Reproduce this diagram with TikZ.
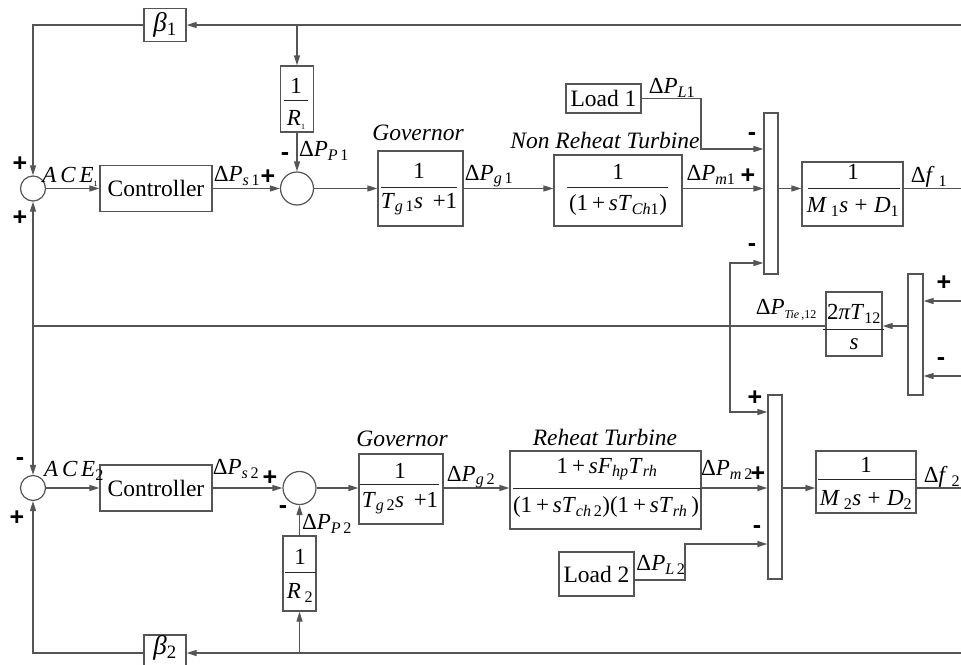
\documentclass[tikz,border=0pt]{standalone}
\usepackage{fontspec}
\setmainfont{Liberation Serif}
\newfontfamily\sgnfont{Liberation Sans}
\usetikzlibrary{arrows.meta}
\definecolor{lc}{RGB}{85,85,85}
\newcommand{\sbs}[1]{\textsubscript{#1}}
\newcommand{\tsb}[1]{\raisebox{-4pt}{\fontsize{8}{8}\selectfont #1}}
\tikzset{
  ln/.style={draw=lc, line width=1.2pt},
  ar/.style={ln, -{Triangle[length=10pt,width=6pt]}},
  blk/.style={draw=lc, line width=1.2pt, inner sep=0pt, fill=white},
  sumc/.style={circle, draw=lc, line width=1.2pt, inner sep=0pt, fill=white},
  fb/.style={draw=black!85, line width=0.9pt},
  sg/.style={font=\sgnfont\bfseries\fontsize{25}{25}\selectfont, inner sep=0pt},
  tx/.style={font=\fontsize{23.5}{26}\selectfont, inner sep=0pt},
  mt/.style={font=\fontsize{23}{25}\selectfont, inner sep=0pt},
  bt/.style={font=\fontsize{27}{29}\selectfont, inner sep=0pt},
}
\begin{document}
\begin{tikzpicture}[x=1pt,y=-1pt]
\useasboundingbox (0,0) rectangle (961,664);

% ---------- area 1 ----------
\node[sumc, minimum size=25pt] (s1) at (33,188.5) {};
\node[blk, tx, minimum width=112pt, minimum height=46pt] (ctl1) at (156,188.5) {Controller};
\node[sumc, minimum size=33pt] (s2) at (297,188.5) {};
\node[blk, bt, minimum width=42pt, minimum height=33pt] (b1) at (165,25) {\textit{β}\sbs{1}};
% 1/R1
\node[blk, minimum width=33pt, minimum height=66pt] (r1) at (297,99) {};
\draw[fb] (284,100) -- (308,100);
\node[mt] (r1n) at (296,86) {1};
\node[mt] (r1d) at (296,120) {\textit{R}\tsb{1}};
% governor 1
\node[blk, minimum width=85pt, minimum height=75pt] (gov1) at (420.5,188.5) {};
\draw[fb] (381,187) -- (457,187);
\node[mt] (gov1n) at (419,171) {1};
\node[mt] (gov1d) at (419,204) {\textit{T}\sbs{\textit{g}\,1}\textit{s}\, +1};
\node[tx] (gov1l) at (418,133) {\textit{Governor}};
% non reheat turbine
\node[blk, minimum width=128pt, minimum height=71pt] (nrt) at (618,190.5) {};
\draw[fb] (567,187) -- (668,187);
\node[mt] (nrtn) at (618,172) {1};
\node[mt] (nrtd) at (618,205) {(1\,+\,\textit{sT}\sbs{\textit{Ch}1})};
\node[tx] (nrtl) at (605,140) {\textit{Non Reheat Turbine}};
% load 1
\node[blk, tx, minimum width=75pt, minimum height=29pt] (load1) at (603.5,98.5) {Load 1};
% summing bar 1
\node[blk, minimum width=14pt, minimum height=161pt] (bar1) at (771,193.5) {};
% 1/(M1 s + D1)
\node[blk, minimum width=101pt, minimum height=64pt] (m1) at (852.5,194) {};
\draw[fb] (808,188) -- (900,188);
\node[mt] (m1n) at (853,172) {1};
\node[mt] (m1d) at (853,207) {\textit{M}\,\sbs{1}\textit{s}\;+\;\textit{D}\sbs{1}};

% ---------- tie line ----------
\node[blk, minimum width=56pt, minimum height=64pt] (tie) at (854,324) {};
\draw[fb] (823,329) -- (884,329);
\node[mt] (tien) at (854,314) {2\textit{πT}\sbs{12}};
\node[mt] (tied) at (854,344) {\textit{s}};
\node[blk, minimum width=15pt, minimum height=121pt] (bar3) at (915.5,334.5) {};

% ---------- area 2 ----------
\node[sumc, minimum size=25pt] (s3) at (33,488) {};
\node[blk, tx, minimum width=112pt, minimum height=46pt] (ctl2) at (156,488) {Controller};
\node[sumc, minimum size=33pt] (s4) at (299.5,488) {};
\node[blk, minimum width=42pt, minimum height=36pt] (b2) at (165,653) {};
\node[bt] (b2t) at (165,648) {\textit{β}\sbs{2}};
% 1/R2
\node[blk, minimum width=33pt, minimum height=75pt] (r2) at (299.5,573.5) {};
\draw[fb] (285,572) -- (316,572);
\node[mt] (r2n) at (300,557) {1};
\node[mt] (r2d) at (300,593) {\textit{R}\,\sbs{2}};
% governor 2
\node[blk, minimum width=84pt, minimum height=70pt] (gov2) at (401,489) {};
\draw[fb] (360,484) -- (439,484);
\node[mt] (gov2n) at (400,471) {1};
\node[mt] (gov2d) at (400,503) {\textit{T}\sbs{\textit{g}\,2}\textit{s}\, +1};
\node[tx] (gov2l) at (402,439) {\textit{Governor}};
% reheat turbine
\node[blk, minimum width=191pt, minimum height=78pt] (rt) at (605.5,490) {};
\draw[fb] (513,488) -- (701,488);
\node[mt] (rtn) at (607,469) {1\,+\,\textit{sF}\sbs{\textit{hp}}\textit{T}\sbs{\textit{rh}}};
\node[mt] (rtd) at (606,507) {(1\,+\,\textit{sT}\sbs{\textit{ch}\,2})(1\,+\,\textit{sT}\sbs{\textit{rh}}\,)};
\node[tx] (rtl) at (605,437) {\textit{Reheat Turbine}};
% load 2
\node[blk, tx, minimum width=75pt, minimum height=44pt] (load2) at (596.5,574) {Load 2};
% summing bar 2
\node[blk, minimum width=14pt, minimum height=184pt] (bar2) at (775,487) {};
% 1/(M2 s + D2)
\node[blk, minimum width=100pt, minimum height=62pt] (m2) at (866,482) {};
\draw[fb] (818,479) -- (916,479);
\node[mt] (m2n) at (866,465) {1};
\node[mt] (m2d) at (866,500) {\textit{M}\,\sbs{2}\textit{s}\;+\;\textit{D}\sbs{2}};

% ---------- coordinates ----------
\coordinate (tr) at (961,25);
\coordinate (tl) at (33,25);
\coordinate (tj) at (297,25);
\coordinate (f1end) at (961,188.5);
\coordinate (l1b) at (701,149);
\coordinate (tj1) at (730,263);
\coordinate (tj2) at (730,412);
\coordinate (lj) at (33,326);
\coordinate (in3a) at (961,301);
\coordinate (in3b) at (961,376);
\coordinate (br) at (961,653);
\coordinate (bl) at (33,653);
\coordinate (bj) at (299.5,653);
\coordinate (f2end) at (961,488);
\coordinate (l2a) at (685,580);
\coordinate (l2b) at (685,544);

% ---------- connectors area 1 ----------
\draw[ar] (tr) -- (b1.east);
\draw[ar] (b1.west) -- (tl) -- (s1.north);
\draw[ar] (tj) -- (r1.north);
\draw[ar] (r1.south) -- (s2.north);
\draw[ar] (s1.east) -- (ctl1.west);
\draw[ar] (ctl1.east) -- (s2.west);
\draw[ar] (s2.east) -- (s2 -| gov1.west);
\draw[ar] (s2 -| gov1.east) -- (s2 -| nrt.west);
\draw[ar] (s2 -| nrt.east) -- (s2 -| bar1.west);
\draw[ar] (s2 -| bar1.east) -- (s2 -| m1.west);
\draw[ln] (s2 -| m1.east) -- (f1end);
\draw[ar] (load1.east) -- (load1.east -| l1b) -- (l1b) -- (l1b -| bar1.west);

% ---------- tie connectors ----------
\draw[ar] (tj2) -- (tj1) -- (tj1 -| bar1.west);
\draw[ar] (tj1) -- (tj2) -- (tj2 -| bar2.west);
\draw[ln] (lj -| tie.west) -- (lj);
\draw[ar] (lj) -- (s1.south);
\draw[ar] (lj) -- (s3.north);
\draw[ar] (lj -| bar3.west) -- (lj -| tie.east);
\draw[ar] (in3a) -- (in3a -| bar3.east);
\draw[ar] (in3b) -- (in3b -| bar3.east);

% ---------- connectors area 2 ----------
\draw[ar] (br) -- (b2.east);
\draw[ar] (b2.west) -- (bl) -- (s3.south);
\draw[ar] (bj) -- (r2.south);
\draw[ar] (r2.north) -- (s4.south);
\draw[ar] (s3.east) -- (ctl2.west);
\draw[ar] (ctl2.east) -- (s4.west);
\draw[ar] (s4.east) -- (s4 -| gov2.west);
\draw[ar] (s4 -| gov2.east) -- (s4 -| rt.west);
\draw[ar] (s4 -| rt.east) -- (s4 -| bar2.west);
\draw[ar] (s4 -| bar2.east) -- (s4 -| m2.west);
\draw[ln] (s4 -| m2.east) -- (f2end);
\draw[ar] (l2a -| load2.east) -- (l2a) -- (l2b) -- (l2b -| bar2.west);

% ---------- labels ----------
\node[mt] (ace1) at (70,177) {\textit{A\,C\,E}\tsb{1}};
\node[mt] (ps1) at (237,176) {Δ\textit{P}\sbs{\textit{s}\,1}};
\node[mt] (pp1) at (324,151) {Δ\textit{P}\sbs{\textit{P}\,1}};
\node[mt] (pg1) at (489,176) {Δ\textit{P}\sbs{\textit{g}\,1}};
\node[mt] (pl1) at (672,88) {Δ\textit{P}\sbs{\textit{L}1}};
\node[mt] (pm1) at (711,175) {Δ\textit{P}\sbs{\textit{m}1}};
\node[mt] (df1) at (929,177) {Δ\textit{f}\,\sbs{1}};
\node[mt] (ptie) at (786,310) {Δ\textit{P}\raisebox{-4pt}{\fontsize{12}{12}\selectfont\textit{Tie}\,,12}};
\node[mt] (ace2) at (74,471) {\textit{A\,C\,E}\sbs{2}};
\node[mt] (ps2) at (236,469) {Δ\textit{P}\sbs{\textit{s}\,2}};
\node[mt] (pp2) at (327,524) {Δ\textit{P}\sbs{\textit{P}\,2}};
\node[mt] (pg2) at (471,477) {Δ\textit{P}\sbs{\textit{g}\,2}};
\node[mt] (pm2) at (727,470) {Δ\textit{P}\sbs{\textit{m}\,2}};
\node[mt] (df2) at (942,477) {Δ\textit{f}\,\sbs{2}};
\node[mt] (pl2) at (661,565) {Δ\textit{P}\sbs{\textit{L}\,2}};

% ---------- signs ----------
\node[sg] (g1) at (20,164) {+};
\node[sg] (g2) at (20,218) {+};
\node[sg] (g3) at (268,177) {+};
\node[sg] (g4) at (285,157) {-};
\node[sg] (g5) at (752,137) {-};
\node[sg] (g6) at (748,176) {+};
\node[sg] (g7) at (752,248) {-};
\node[sg] (g8) at (944,283) {+};
\node[sg] (g9) at (941,362) {-};
\node[sg] (g10) at (755,398) {+};
\node[sg] (g11) at (20,462) {-};
\node[sg] (g12) at (17,518) {+};
\node[sg] (g13) at (270,478) {+};
\node[sg] (g14) at (283,510) {-};
\node[sg] (g15) at (758,474) {+};
\node[sg] (g16) at (757,530) {-};
\end{tikzpicture}
\end{document}
